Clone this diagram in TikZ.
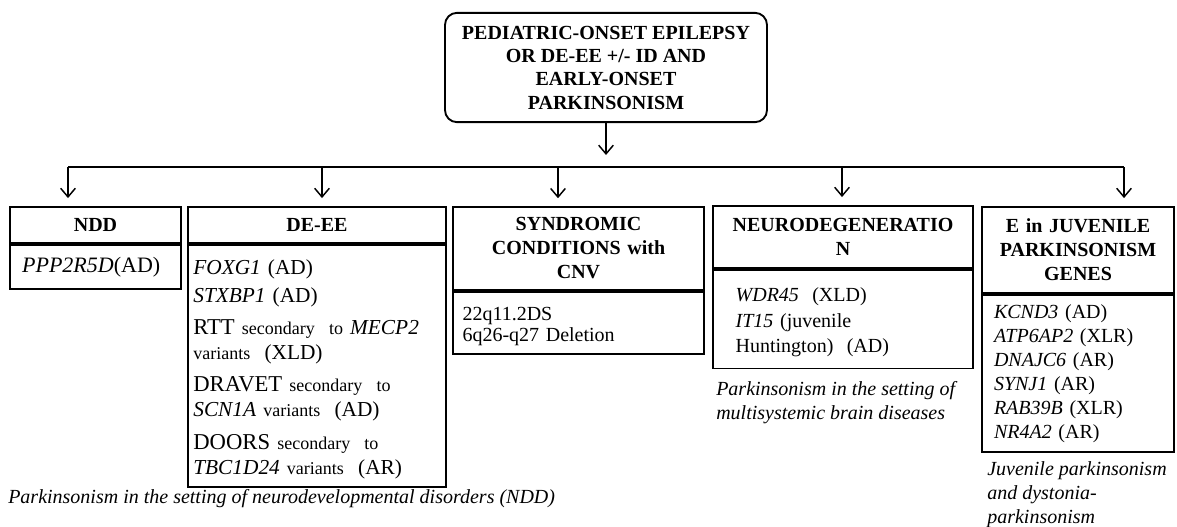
\documentclass[tikz,border=0pt]{standalone}
\usepackage{fontspec}
\setmainfont{Liberation Serif}
\usetikzlibrary{arrows.meta,positioning}

\tikzset{
	topbox/.style={draw, line width=1.4pt, rounded corners=9pt, align=center, minimum width=241.5pt, minimum height=82pt, font=\fontsize{15}{17.5}\selectfont\bfseries},
	hbox/.style={draw, line width=1.4pt, align=center, inner xsep=2pt, font=\fontsize{15}{18}\selectfont\bfseries},
	bbox/.style={draw, line width=1.4pt, align=left, below=0pt of #1},
	note/.style={anchor=north west, align=left, inner sep=0pt, font=\fontsize{15}{18}\selectfont\itshape},
}
\newcommand{\sm}[1]{{\fontsize{13.5}{19}\selectfont #1}}
\newcommand{\bg}[1]{{\fontsize{17}{19}\selectfont #1}}

\begin{document}
\begin{tikzpicture}[x=0.75pt,y=-0.75pt,>={Straight Barb[length=6.5pt,width=11pt]}]
\useasboundingbox (0,0) rectangle (1177,526);

\node[topbox] (top) at (606,67.5) {PEDIATRIC-ONSET EPILEPSY\\OR DE-EE +/- ID AND\\EARLY-ONSET\\PARKINSONISM};

\node[hbox, text width=124pt, minimum height=27pt] (ndd) at (95.5,225) {NDD};
\node[hbox, text width=189.5pt, minimum height=27pt] (dee) at (317,225) {DE-EE};
\node[hbox, text width=184pt, minimum height=62pt] (syn) at (578.5,248.5) {SYNDROMIC\\CONDITIONS with\\CNV};
\node[hbox, text width=191pt, minimum height=46.5pt] (neu) at (843,237) {NEURODEGENERATIO\\N};
\node[hbox, text width=140pt, minimum height=64.5pt] (ej) at (1078,250) {E in JUVENILE\\PARKINSONISM\\GENES};

\node[bbox=ndd, text width=110pt, inner xsep=9pt, minimum height=33pt, font=\fontsize{16.5}{19}\selectfont] (nddg) {\textit{PPP2R5D}(AD)};
\node[bbox=dee, text width=185.5pt, inner xsep=4pt, inner ysep=0pt, minimum height=181.5pt, font=\fontsize{16}{19}\selectfont] (deeg) {%
	\rule{0pt}{17pt}\textit{FOXG1} (AD)\\[1.5pt]
	\textit{STXBP1} (AD)\\[5pt]
	\bg{RTT} \sm{secondary~ to} \textit{MECP2}\\
	\sm{variants~~}(XLD)\\[5pt]
	\bg{DRAVET} \sm{secondary~ to}\\
	\textit{SCN1A} \sm{variants~~}(AD)\\[5.5pt]
	\bg{DOORS} \sm{secondary~ to}\\
	\textit{TBC1D24} \sm{variants~~}(AR)};
\node[bbox=syn, text width=174pt, inner xsep=7pt, minimum height=46.5pt, font=\fontsize{15}{15.5}\selectfont] (syng) {\rule{0pt}{16pt}22q11.2DS\\6q26-q27 Deletion};
\node[bbox=neu, text width=161pt, inner xsep=17pt, minimum height=74pt, font=\fontsize{15}{19}\selectfont] (neug) {\rule{0pt}{15pt}\textit{WDR45}~~(XLD)\\\textit{IT15} (juvenile\\Huntington)~~(AD)};
\node[bbox=ej, text width=126pt, inner xsep=9pt, minimum height=118pt, font=\fontsize{15}{18}\selectfont] (ejg) {\textit{KCND3} (AD)\\\textit{ATP6AP2} (XLR)\\\textit{DNAJC6} (AR)\\\textit{SYNJ1} (AR)\\\textit{RAB39B} (XLR)\\\textit{NR4A2} (AR)};

\node[note] (cap1) at (8,489) {Parkinsonism in the setting of neurodevelopmental disorders (NDD)};
\node[note] (cap2) at (716,381) {Parkinsonism in the setting of\\multisystemic brain diseases};
\node[note] (cap3) at (987,461) {Juvenile parkinsonism\\and dystonia-\\parkinsonism};

\foreach \x/\b in {68/ndd,322/dee,558/syn,842/neu,1124/ej} {
	\coordinate (a\b) at (\x,167);
	\draw[->, line width=1.1pt, shorten >=6pt] (a\b) -- (a\b |- \b.north);
}
\draw[line width=1.1pt] (andd) -- (aej);
\draw[->, line width=1.1pt, shorten >=9pt] (top) -- (top.south |- andd);

\end{tikzpicture}
\end{document}
